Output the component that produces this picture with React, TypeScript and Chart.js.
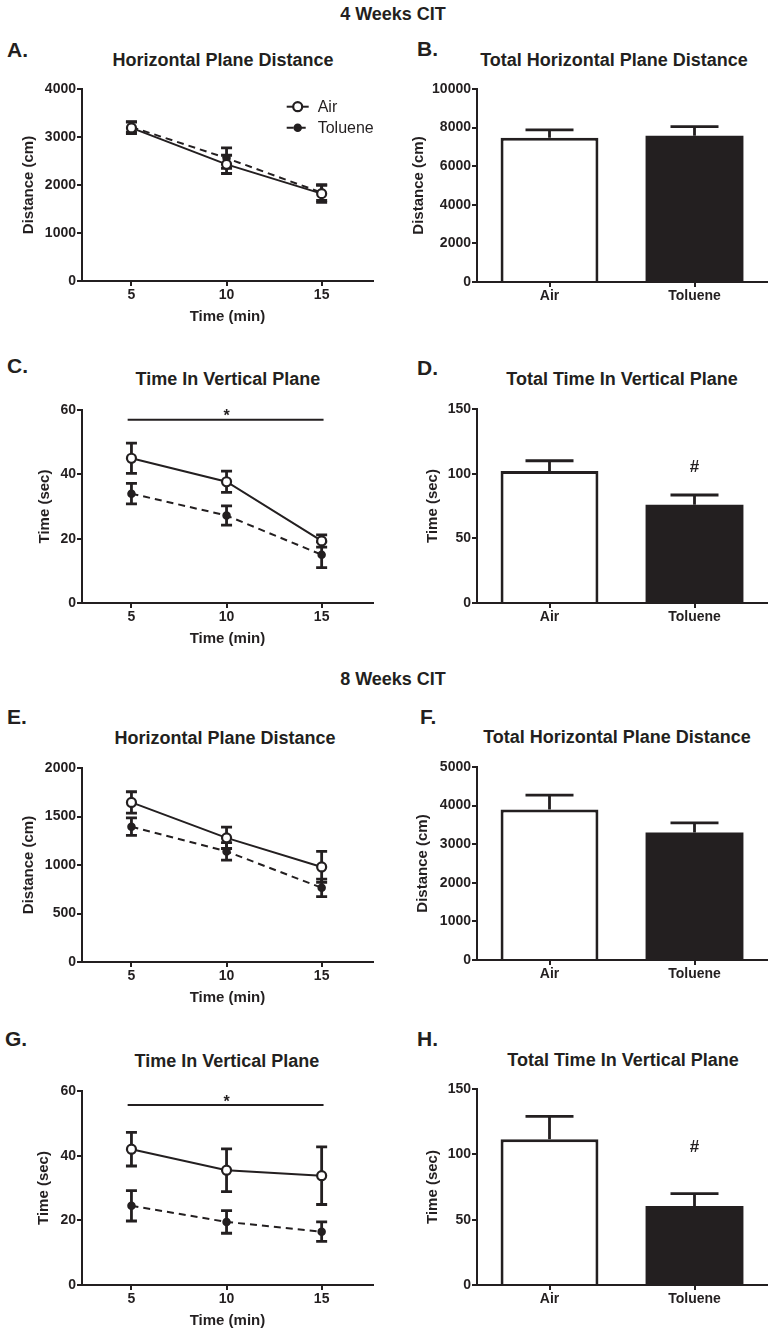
import React, { useEffect, useRef } from "react";
import { Chart, registerables } from "chart.js";

Chart.register(...registerables);

const INK = "#231f20";
const FONT = "'Liberation Sans', Arial, Helvetica, sans-serif";

// ---------- data ----------
const timeMin = [5, 10, 15];
const timeTicks = [5, 10, 15];
const groups = ["Air", "Toluene"];
const seriesNames = ["Air", "Toluene"];

// 4 weeks CIT
const a4AirMean = [3190, 2430, 1820];
const a4AirSem = [120, 190, 180];
const a4TolMean = [3210, 2560, 1840];
const a4TolSem = [110, 215, 160];
const a4Ticks = [0, 1000, 2000, 3000, 4000];

const b4Mean = [7480, 7580];
const b4Sem = [400, 470];
const b4Ticks = [0, 2000, 4000, 6000, 8000, 10000];

const c4AirMean = [45, 37.7, 19.3];
const c4AirSem = [4.7, 3.3, 1.9];
const c4TolMean = [34, 27.2, 15];
const c4TolSem = [3.2, 3.0, 4.0];
const c4Ticks = [0, 20, 40, 60];

const d4Mean = [102, 76];
const d4Sem = [8, 7.5];
const d4Ticks = [0, 50, 100, 150];

// 8 weeks CIT
const e8AirMean = [1645, 1280, 980];
const e8AirSem = [110, 110, 160];
const e8TolMean = [1395, 1140, 765];
const e8TolSem = [90, 90, 90];
const e8Ticks = [0, 500, 1000, 1500, 2000];

const f8Mean = [3900, 3300];
const f8Sem = [370, 250];
const f8Ticks = [0, 1000, 2000, 3000, 4000, 5000];

const g8AirMean = [42, 35.5, 33.8];
const g8AirSem = [5.2, 6.6, 8.9];
const g8TolMean = [24.5, 19.5, 16.5];
const g8TolSem = [4.7, 3.5, 3.0];
const g8Ticks = [0, 20, 40, 60];

const h8Mean = [111.5, 60.5];
const h8Sem = [17.5, 9.5];
const h8Ticks = [0, 50, 100, 150];

// ---------- layout ----------
const X_H = 45;
const PAD_T = 12;
function box(col: number, top: number, bottom: number) {
  return {
    left: col ? 388 : 0,
    top: top - PAD_T,
    w: 388,
    h: bottom - top + PAD_T + X_H,
    yWidth: col ? 89 : 82,
    padRight: col ? 9 : 15,
  };
}

type Sig = { from?: number; to?: number; lineY?: number; label: string; labelX: number; labelY: number; size: number };

type Spec = {
  kind: "line" | "bar";
  b: ReturnType<typeof box>;
  yTitle: string;
  yTitlePad: number;
  yTicks: number[];
  lines?: { airMean: number[]; airSem: number[]; tolMean: number[]; tolSem: number[] };
  bars?: { mean: number[]; sem: number[] };
  sig?: Sig;
  legend?: boolean;
};

const panels: Spec[] = [
  {
    kind: "line", b: box(0, 89, 281), yTitle: "Distance (cm)", yTitlePad: 20, yTicks: a4Ticks,
    lines: { airMean: a4AirMean, airSem: a4AirSem, tolMean: a4TolMean, tolSem: a4TolSem }, legend: true,
  },
  { kind: "bar", b: box(1, 89, 282), yTitle: "Distance (cm)", yTitlePad: 22, yTicks: b4Ticks, bars: { mean: b4Mean, sem: b4Sem } },
  {
    kind: "line", b: box(0, 410, 603), yTitle: "Time (sec)", yTitlePad: 36, yTicks: c4Ticks,
    lines: { airMean: c4AirMean, airSem: c4AirSem, tolMean: c4TolMean, tolSem: c4TolSem },
    sig: { from: 4.8, to: 15.1, lineY: 57, label: "*", labelX: 10, labelY: 56.6, size: 16 },
  },
  {
    kind: "bar", b: box(1, 409, 603), yTitle: "Time (sec)", yTitlePad: 36, yTicks: d4Ticks, bars: { mean: d4Mean, sem: d4Sem },
    sig: { label: "#", labelX: 1, labelY: 101.5, size: 17 },
  },
  {
    kind: "line", b: box(0, 768, 962), yTitle: "Distance (cm)", yTitlePad: 20, yTicks: e8Ticks,
    lines: { airMean: e8AirMean, airSem: e8AirSem, tolMean: e8TolMean, tolSem: e8TolSem },
  },
  { kind: "bar", b: box(1, 767, 960), yTitle: "Distance (cm)", yTitlePad: 26, yTicks: f8Ticks, bars: { mean: f8Mean, sem: f8Sem } },
  {
    kind: "line", b: box(0, 1091, 1285), yTitle: "Time (sec)", yTitlePad: 35, yTicks: g8Ticks,
    lines: { airMean: g8AirMean, airSem: g8AirSem, tolMean: g8TolMean, tolSem: g8TolSem },
    sig: { from: 4.8, to: 15.1, lineY: 55.7, label: "*", labelX: 10, labelY: 55.2, size: 16 },
  },
  {
    kind: "bar", b: box(1, 1089, 1285), yTitle: "Time (sec)", yTitlePad: 36, yTicks: h8Ticks, bars: { mean: h8Mean, sem: h8Sem },
    sig: { label: "#", labelX: 1, labelY: 101.5, size: 17 },
  },
];

const texts: { t: string; x: number; y: number; size: number; center: boolean }[] = [
  { t: "4 Weeks CIT", x: 393, y: 14, size: 18, center: true },
  { t: "8 Weeks CIT", x: 393, y: 679, size: 18, center: true },
  { t: "A.", x: 7, y: 49, size: 21, center: false },
  { t: "B.", x: 417, y: 48, size: 21, center: false },
  { t: "C.", x: 7, y: 365, size: 21, center: false },
  { t: "D.", x: 417, y: 367, size: 21, center: false },
  { t: "E.", x: 7, y: 716, size: 21, center: false },
  { t: "F.", x: 420, y: 716, size: 21, center: false },
  { t: "G.", x: 5, y: 1038, size: 21, center: false },
  { t: "H.", x: 417, y: 1038, size: 21, center: false },
  { t: "Horizontal Plane Distance", x: 223, y: 59.5, size: 18, center: true },
  { t: "Total Horizontal Plane Distance", x: 614, y: 59.5, size: 18, center: true },
  { t: "Time In Vertical Plane", x: 228, y: 379, size: 18, center: true },
  { t: "Total Time In Vertical Plane", x: 622, y: 379, size: 18, center: true },
  { t: "Horizontal Plane Distance", x: 225, y: 738, size: 18, center: true },
  { t: "Total Horizontal Plane Distance", x: 617, y: 737, size: 18, center: true },
  { t: "Time In Vertical Plane", x: 227, y: 1061, size: 18, center: true },
  { t: "Total Time In Vertical Plane", x: 623, y: 1059.5, size: 18, center: true },
];

// ---------- plugins ----------
function errorBarPlugin(kind: "line" | "bar") {
  const draw = (chart: any) => {
    const { ctx } = chart;
    const ys = chart.scales.y;
    const cap = kind === "bar" ? 24 : 5.5;
    chart.data.datasets.forEach((ds: any, di: number) => {
      if (!ds.sem) return;
      const meta = chart.getDatasetMeta(di);
      meta.data.forEach((el: any, i: number) => {
        const raw = ds.data[i];
        const v = typeof raw === "number" ? raw : raw.y;
        const x = el.x;
        const yTop = ys.getPixelForValue(v + ds.sem[i]);
        const yBot = ys.getPixelForValue(kind === "bar" ? v : v - ds.sem[i]);
        ctx.save();
        ctx.strokeStyle = INK;
        ctx.lineWidth = 2.8;
        ctx.setLineDash([]);
        ctx.beginPath();
        ctx.moveTo(x, yTop);
        ctx.lineTo(x, yBot);
        ctx.moveTo(x - cap, yTop);
        ctx.lineTo(x + cap, yTop);
        if (kind === "line") {
          ctx.moveTo(x - cap, yBot);
          ctx.lineTo(x + cap, yBot);
        }
        ctx.stroke();
        ctx.restore();
      });
    });
  };
  return {
    id: "errorBars",
    beforeDatasetsDraw(chart: any) {
      if (kind === "line") draw(chart);
    },
    afterDatasetsDraw(chart: any) {
      if (kind === "bar") draw(chart);
    },
  };
}

function sigPlugin(sig?: Sig) {
  return {
    id: "sigMarks",
    afterDatasetsDraw(chart: any) {
      if (!sig) return;
      const { ctx } = chart;
      const xs = chart.scales.x;
      const ys = chart.scales.y;
      ctx.save();
      ctx.strokeStyle = INK;
      ctx.fillStyle = INK;
      if (sig.from !== undefined && sig.to !== undefined && sig.lineY !== undefined) {
        const py = ys.getPixelForValue(sig.lineY);
        ctx.lineWidth = 2;
        ctx.beginPath();
        ctx.moveTo(xs.getPixelForValue(sig.from), py);
        ctx.lineTo(xs.getPixelForValue(sig.to), py);
        ctx.stroke();
      }
      ctx.font = `bold ${sig.size}px ${FONT}`;
      ctx.textAlign = "center";
      ctx.textBaseline = "alphabetic";
      ctx.fillText(sig.label, xs.getPixelForValue(sig.labelX), ys.getPixelForValue(sig.labelY));
      ctx.restore();
    },
  };
}

function legendPlugin(show?: boolean) {
  return {
    id: "lineLegend",
    afterDraw(chart: any) {
      if (!show) return;
      const { ctx, chartArea } = chart;
      const cx = chartArea.left + 215.7;
      const rows = [17.7, 38.7];
      chart.data.datasets.forEach((ds: any, i: number) => {
        const cy = chartArea.top + rows[i];
        ctx.save();
        ctx.strokeStyle = INK;
        ctx.lineWidth = 2;
        ctx.setLineDash(ds.borderDash || []);
        ctx.beginPath();
        ctx.moveTo(cx - 11, cy);
        ctx.lineTo(cx + 11, cy);
        ctx.stroke();
        ctx.setLineDash([]);
        ctx.beginPath();
        ctx.arc(cx, cy, ds.pointRadius, 0, Math.PI * 2);
        ctx.fillStyle = ds.pointBackgroundColor;
        ctx.fill();
        ctx.lineWidth = ds.pointBorderWidth;
        ctx.stroke();
        ctx.fillStyle = INK;
        ctx.font = `16px ${FONT}`;
        ctx.textAlign = "left";
        ctx.textBaseline = "middle";
        ctx.fillText(ds.label, cx + 20, cy + 1);
        ctx.restore();
      });
    },
  };
}

// ---------- config ----------
const tickFont = { family: FONT, size: 14, weight: "bold" as const };
const titleFont = { family: FONT, size: 15, weight: "bold" as const };

function axisGrid(offset: boolean) {
  return {
    display: true,
    drawOnChartArea: false,
    drawTicks: true,
    tickLength: 5,
    color: INK,
    lineWidth: 2,
    offset,
  };
}

function buildConfig(spec: Spec): any {
  const yScale = {
    type: "linear",
    min: 0,
    max: spec.yTicks[spec.yTicks.length - 1],
    afterBuildTicks: (s: any) => {
      s.ticks = spec.yTicks.map((v) => ({ value: v }));
    },
    afterFit: (s: any) => {
      s.width = spec.b.yWidth;
    },
    border: { display: true, color: INK, width: 2 },
    grid: axisGrid(false),
    ticks: { color: INK, font: tickFont, padding: 1, autoSkip: false, callback: (v: any) => String(v) },
    title: { display: true, text: spec.yTitle, color: INK, font: titleFont, padding: { top: spec.yTitlePad, bottom: 0 } },
  };
  const options: any = {
    responsive: false,
    animation: false,
    events: [],
    devicePixelRatio: 1,
    layout: { padding: { left: 0, right: spec.b.padRight, top: PAD_T, bottom: 0 } },
    plugins: { legend: { display: false }, tooltip: { enabled: false }, title: { display: false } },
  };
  const plugins = [errorBarPlugin(spec.kind), sigPlugin(spec.sig), legendPlugin(spec.legend)];

  if (spec.kind === "line" && spec.lines) {
    const L = spec.lines;
    const mk = (label: string, mean: number[], sem: number[], air: boolean) => ({
      label,
      data: timeMin.map((t, i) => ({ x: t, y: mean[i] })),
      sem,
      borderColor: INK,
      borderWidth: 2,
      borderDash: air ? [] : [7, 5],
      tension: 0,
      fill: false,
      pointStyle: "circle",
      pointRadius: air ? 4.5 : 3.5,
      pointBorderWidth: air ? 2.2 : 1.5,
      pointBorderColor: INK,
      pointBackgroundColor: air ? "#ffffff" : INK,
    });
    options.scales = {
      x: {
        type: "linear",
        min: 2.4,
        max: 17.7,
        afterBuildTicks: (s: any) => {
          s.ticks = timeTicks.map((v) => ({ value: v }));
        },
        afterFit: (s: any) => {
          s.height = X_H;
        },
        border: { display: true, color: INK, width: 2 },
        grid: axisGrid(false),
        ticks: { color: INK, font: tickFont, padding: 1, autoSkip: false, maxRotation: 0, callback: (v: any) => String(v) },
        title: { display: true, text: "Time (min)", color: INK, font: titleFont, padding: { top: 0, bottom: 0 } },
      },
      y: yScale,
    };
    return {
      type: "line",
      data: {
        datasets: [
          mk(seriesNames[0], L.airMean, L.airSem, true),
          mk(seriesNames[1], L.tolMean, L.tolSem, false),
        ],
      },
      options,
      plugins,
    };
  }

  const B = spec.bars!;
  options.scales = {
    x: {
      type: "category",
      offset: true,
      afterFit: (s: any) => {
        s.height = X_H;
      },
      border: { display: true, color: INK, width: 2 },
      grid: axisGrid(false),
      ticks: { color: INK, font: tickFont, padding: 1, autoSkip: false, maxRotation: 0 },
    },
    y: yScale,
  };
  return {
    type: "bar",
    data: {
      labels: groups,
      datasets: [
        {
          label: "Total",
          data: B.mean,
          sem: B.sem,
          backgroundColor: ["#ffffff", INK],
          borderColor: INK,
          borderWidth: [3, 0],
          categoryPercentage: 0.75,
          barPercentage: 0.9,
        },
      ],
    },
    options,
    plugins,
  };
}

function Panel({ spec }: { spec: Spec }) {
  const ref = useRef<HTMLCanvasElement>(null);
  useEffect(() => {
    if (!ref.current) return;
    const chart = new Chart(ref.current, buildConfig(spec));
    return () => chart.destroy();
  }, [spec]);
  const b = spec.b;
  return (
    <canvas
      ref={ref}
      width={b.w}
      height={b.h}
      style={{ position: "absolute", left: b.left, top: b.top, width: b.w, height: b.h }}
    />
  );
}

export default function App() {
  return (
    <div
      style={{
        position: "absolute",
        left: 0,
        top: 0,
        width: 776,
        height: 1335,
        overflow: "hidden",
        background: "#ffffff",
        fontFamily: FONT,
        color: INK,
      }}
    >
      {panels.map((p, i) => (
        <Panel key={i} spec={p} />
      ))}
      {texts.map((t, i) => (
        <div
          key={"t" + i}
          style={{
            position: "absolute",
            left: t.x,
            top: t.y,
            transform: t.center ? "translate(-50%, -50%)" : "translate(0, -50%)",
            fontSize: t.size,
            fontWeight: "bold",
            lineHeight: 1,
            whiteSpace: "nowrap",
          }}
        >
          {t.t}
        </div>
      ))}
    </div>
  );
}
